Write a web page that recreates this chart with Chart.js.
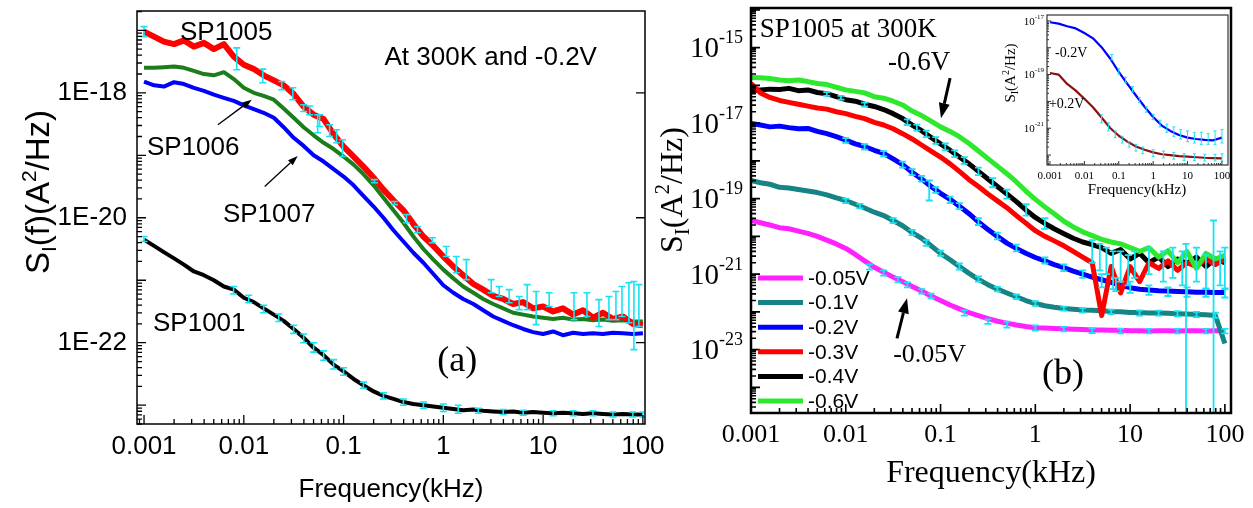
<!DOCTYPE html>
<html>
<head>
<meta charset="utf-8">
<script src="https://cdn.jsdelivr.net/npm/chart.js@4/dist/chart.umd.min.js"></script>
<style>
  body { margin: 0; background: #fff; }
  #wrap { position: relative; width: 1253px; height: 508px; }
  #wrap canvas { position: absolute; left: 0; top: 0; }
</style>
</head>
<body>
<div id="wrap">
  <canvas id="chartA" width="1253" height="508"></canvas>
  <canvas id="chartB" width="1253" height="508"></canvas>
  <canvas id="chartInset" width="1253" height="508"></canvas>
</div>
<script>
// frequency grid (kHz) shared by the main curves
const freq = [0.001, 0.00126, 0.00158, 0.002, 0.00251, 0.00316, 0.00398, 0.00501, 0.00631, 0.00794,
  0.01, 0.0126, 0.0158, 0.02, 0.0251, 0.0316, 0.0398, 0.0501, 0.0631, 0.0794,
  0.1, 0.126, 0.158, 0.2, 0.251, 0.316, 0.398, 0.501, 0.631, 0.794,
  1, 1.26, 1.58, 2, 2.51, 3.16, 3.98, 5.01, 6.31, 7.94,
  10, 12.6, 15.8, 20, 25.1, 31.6, 39.8, 50.1, 63.1, 79.4, 100];

// panel (a): log10 of S_I (A^2/Hz)
const sp1005 = [-17.02, -17.10, -17.18, -17.22, -17.16, -17.26, -17.20, -17.30, -17.22, -17.42,
  -17.55, -17.62, -17.72, -17.80, -17.88, -18.02, -18.22, -18.35, -18.42, -18.66,
  -18.86, -19.02, -19.18, -19.36, -19.55, -19.72, -19.88, -20.10, -20.30, -20.45,
  -20.62, -20.78, -20.92, -21.06, -21.15, -21.25, -21.30, -21.38, -21.35, -21.45,
  -21.42, -21.50, -21.45, -21.55, -21.48, -21.60, -21.52, -21.62, -21.58, -21.70, -21.72];
const sp1006 = [-17.60, -17.60, -17.59, -17.58, -17.60, -17.65, -17.70, -17.72, -17.67, -17.78,
  -17.92, -18.00, -18.05, -18.11, -18.25, -18.40, -18.55, -18.68, -18.80, -18.90,
  -19.02, -19.15, -19.30, -19.48, -19.68, -19.88, -20.08, -20.30, -20.50, -20.67,
  -20.83, -20.97, -21.10, -21.20, -21.30, -21.38, -21.45, -21.52, -21.55, -21.58,
  -21.60, -21.62, -21.60, -21.63, -21.62, -21.64, -21.63, -21.65, -21.64, -21.66, -21.66];
const sp1007 = [-17.82, -17.88, -17.90, -17.83, -17.86, -17.92, -17.97, -18.03, -18.08, -18.13,
  -18.20, -18.26, -18.32, -18.40, -18.55, -18.72, -18.85, -19.00, -19.10, -19.22,
  -19.34, -19.48, -19.65, -19.82, -20.00, -20.20, -20.38, -20.56, -20.72, -20.90,
  -21.08, -21.20, -21.30, -21.38, -21.48, -21.58, -21.65, -21.72, -21.78, -21.83,
  -21.86, -21.82, -21.88, -21.84, -21.86, -21.85, -21.86, -21.84, -21.85, -21.86, -21.85];
const sp1001 = [-20.35, -20.45, -20.55, -20.65, -20.75, -20.86, -20.92, -21.00, -21.10, -21.15,
  -21.28, -21.35, -21.45, -21.55, -21.65, -21.78, -21.92, -22.08, -22.20, -22.35,
  -22.46, -22.58, -22.68, -22.78, -22.85, -22.90, -22.95, -22.98, -23.00, -23.02,
  -23.04, -23.06, -23.08, -23.07, -23.09, -23.10, -23.11, -23.10, -23.12, -23.11,
  -23.12, -23.13, -23.12, -23.13, -23.14, -23.13, -23.14, -23.15, -23.14, -23.15, -23.15];

// error bars: [kHz, log10 low, log10 high]
const errSp1005 = [[0.001, -17.1, -16.94], [0.0085, -17.63, -17.28], [0.0155, -17.84, -17.62], [0.024, -17.95, -17.82],
  [0.031, -18.11, -17.92], [0.0398, -18.3, -18.19], [0.0457, -18.35, -18.21], [0.055, -18.64, -18.35],
  [0.0575, -18.54, -18.35], [0.0724, -18.7, -18.51], [0.0851, -18.8, -18.59], [0.0977, -19.02, -18.75],
  [0.204, -19.44, -19.39], [0.324, -19.79, -19.74], [0.427, -20.08, -19.95], [0.55, -20.24, -20.14],
  [0.776, -20.4, -20.32], [1.07, -20.62, -20.46], [1.35, -20.88, -20.62], [1.7, -20.99, -20.67],
  [3.02, -21.2, -20.99], [3.63, -21.26, -21.1], [4.57, -21.36, -21.15], [5.75, -21.47, -21.26],
  [6.92, -21.47, -21.07], [8.51, -21.71, -21.18], [11.5, -21.42, -21.2], [20.4, -21.63, -21.2],
  [27.5, -21.58, -21.2], [36.3, -21.74, -21.31], [45.7, -21.63, -21.26], [53.7, -21.63, -21.18],
  [61.7, -21.58, -21.1], [72.4, -21.68, -21.04], [81.3, -22.11, -21.02], [91.2, -21.74, -21.07]];
const errSp1001 = [[0.001, -20.38, -20.3], [0.0079, -21.22, -21.1], [0.0112, -21.36, -21.24], [0.0158, -21.52, -21.4],
  [0.0224, -21.66, -21.54], [0.0316, -21.85, -21.72], [0.0398, -22.0, -21.86], [0.0501, -22.15, -22.0],
  [0.0631, -22.28, -22.13], [0.0794, -22.42, -22.27], [0.1, -22.52, -22.4], [0.158, -22.73, -22.63],
  [0.251, -22.9, -22.8], [0.398, -23.0, -22.9], [0.631, -23.05, -22.95], [1, -23.1, -22.98],
  [1.41, -23.13, -23.0], [2.24, -23.13, -23.05], [3.98, -23.15, -23.07], [6.31, -23.16, -23.08],
  [12.6, -23.17, -23.09], [20, -23.17, -23.09], [31.6, -23.17, -23.09], [50.1, -23.19, -23.11],
  [79.4, -23.19, -23.11], [100, -23.19, -23.11]];

// panel (b): SP1005 at 300K, log10 of S_I for each bias
const v005 = [-19.58, -19.64, -19.70, -19.77, -19.80, -19.86, -19.92, -20.00, -20.10, -20.20,
  -20.32, -20.48, -20.65, -20.82, -20.95, -21.08, -21.20, -21.33, -21.45, -21.58,
  -21.70, -21.82, -21.92, -22.02, -22.10, -22.18, -22.25, -22.30, -22.35, -22.39,
  -22.42, -22.43, -22.44, -22.45, -22.46, -22.47, -22.48, -22.48, -22.49, -22.49,
  -22.50, -22.50, -22.51, -22.50, -22.50, -22.51, -22.50, -22.50, -22.51, -22.50, -22.50];
const v01 = [-18.52, -18.58, -18.62, -18.70, -18.72, -18.76, -18.80, -18.84, -18.90, -18.98,
  -19.05, -19.15, -19.25, -19.36, -19.45, -19.58, -19.72, -19.90, -20.05, -20.25,
  -20.45, -20.62, -20.80, -20.98, -21.14, -21.28, -21.40, -21.50, -21.60, -21.70,
  -21.78, -21.84, -21.88, -21.91, -21.93, -21.95, -21.96, -21.97, -21.99, -22.00,
  -22.02, -22.02, -22.03, -22.03, -22.04, -22.05, -22.06, -22.07, -22.08, -22.10, -22.84];
const v02 = [-17.01, -17.05, -17.10, -17.08, -17.12, -17.15, -17.14, -17.22, -17.28, -17.36,
  -17.45, -17.55, -17.62, -17.72, -17.80, -17.95, -18.10, -18.30, -18.48, -18.68,
  -18.86, -19.02, -19.20, -19.40, -19.62, -19.82, -20.00, -20.18, -20.32, -20.45,
  -20.56, -20.65, -20.75, -20.83, -20.92, -21.00, -21.08, -21.15, -21.22, -21.30,
  -21.36, -21.40, -21.42, -21.44, -21.45, -21.46, -21.47, -21.48, -21.48, -21.49, -21.49];
const v03 = [-15.95, -16.20, -16.32, -16.40, -16.45, -16.50, -16.55, -16.60, -16.63, -16.70,
  -16.75, -16.82, -16.88, -16.98, -17.05, -17.15, -17.28, -17.42, -17.58, -17.74,
  -17.90, -18.08, -18.28, -18.50, -18.68, -18.88, -19.06, -19.24, -19.45, -19.65,
  -19.85, -20.00, -20.12, -20.25, -20.40, -20.55, -20.70, -22.10, -20.80, -21.50,
  -20.80, -21.20, -20.70, -20.85, -20.65, -20.90, -20.70, -20.80, -20.60, -20.75, -20.60];
const v04 = [-16.14, -16.12, -16.10, -16.11, -16.08, -16.14, -16.12, -16.19, -16.22, -16.30,
  -16.38, -16.42, -16.50, -16.56, -16.64, -16.75, -16.88, -17.05, -17.20, -17.38,
  -17.55, -17.72, -17.90, -18.08, -18.28, -18.48, -18.68, -18.88, -19.08, -19.30,
  -19.50, -19.66, -19.80, -19.93, -20.05, -20.15, -20.22, -20.30, -20.45, -20.35,
  -20.60, -20.45, -20.70, -20.55, -20.80, -20.60, -20.72, -20.55, -20.80, -20.60, -20.70];
const v06 = [-15.79, -15.80, -15.82, -15.86, -15.88, -15.86, -15.90, -15.95, -15.98, -16.05,
  -16.12, -16.16, -16.20, -16.30, -16.34, -16.42, -16.52, -16.68, -16.80, -16.95,
  -17.10, -17.22, -17.36, -17.54, -17.74, -17.94, -18.14, -18.34, -18.56, -18.80,
  -19.02, -19.22, -19.40, -19.60, -19.75, -19.88, -19.98, -20.08, -20.15, -20.20,
  -20.30, -20.40, -20.30, -20.55, -20.38, -20.70, -20.40, -20.85, -20.45, -20.60, -20.50];

const errV04 = [[0.0063, -16.28, -16.18], [0.0089, -16.38, -16.28], [0.0158, -16.56, -16.46], [0.0447, -17.05, -16.9],
  [0.0562, -17.2, -17.04], [0.0708, -17.37, -17.2], [0.0891, -17.55, -17.37], [0.112, -17.72, -17.54],
  [0.141, -17.9, -17.72], [0.178, -18.08, -17.9], [0.251, -18.38, -18.18], [0.355, -18.7, -18.46],
  [0.5, -19.0, -18.76], [0.8, -19.45, -19.15], [1.26, -19.8, -19.52]];
const errHigh = [[3.98, -20.7, -20.1], [4.79, -20.9, -20.2], [5.62, -21.0, -20.3], [6.61, -21.4, -20.4],
  [7.94, -21.2, -20.4], [9.55, -21.3, -20.5], [11.2, -21.1, -20.4], [15.8, -21.0, -20.3],
  [22.4, -21.2, -20.4], [28.2, -21.1, -20.3], [35.5, -21.3, -20.4], [50.1, -21.2, -20.3],
  [63.1, -21.4, -20.5], [89.1, -21.3, -20.4], [100, -21.4, -20.3]];
const errV02 = [[0.01, -17.52, -17.4], [0.0158, -17.7, -17.56], [0.0251, -17.88, -17.74], [0.0398, -18.18, -18.02],
  [0.0501, -18.38, -18.22], [0.0631, -18.55, -18.4], [0.0759, -19.05, -18.52], [0.0891, -18.85, -18.7],
  [0.126, -19.12, -18.95], [0.158, -19.28, -19.12], [0.251, -19.7, -19.52], [0.398, -20.08, -19.9],
  [0.631, -20.4, -20.22], [1.26, -20.72, -20.56], [2, -20.92, -20.74], [3.16, -21.1, -20.9],
  [5.01, -21.35, -21.0], [7.08, -21.45, -21.1], [10, -21.5, -21.2], [15.8, -21.55, -21.3],
  [25.1, -21.58, -21.35], [39.8, -21.6, -21.35], [63.1, -21.6, -21.38], [100, -21.62, -21.38]];
const errV01 = [[0.01, -19.12, -19.0], [0.0141, -19.26, -19.14], [0.0316, -19.65, -19.52], [0.0501, -19.97, -19.83],
  [0.0708, -20.25, -20.1], [0.1, -20.52, -20.38], [0.158, -20.88, -20.72], [0.251, -21.2, -21.06],
  [0.398, -21.46, -21.34], [0.631, -21.66, -21.54], [1, -21.84, -21.72], [2, -21.97, -21.86],
  [3.16, -22.02, -21.9], [6.31, -22.06, -21.94], [12.6, -22.1, -21.96], [20, -22.1, -21.97],
  [31.6, -22.12, -21.98], [50.1, -22.14, -22.0], [79.4, -22.16, -22.02]];
const errV005 = [[0.0178, -20.88, -20.74], [0.0251, -21.04, -20.9], [0.0355, -21.22, -21.08], [0.0447, -21.35, -21.22],
  [0.0631, -21.52, -21.4], [0.0794, -21.64, -21.52], [0.178, -22.1, -21.96], [0.316, -22.32, -22.2],
  [0.501, -22.42, -22.26], [1, -22.5, -22.36], [2, -22.52, -22.4], [3.98, -22.56, -22.44],
  [7.94, -22.57, -22.45], [15.8, -22.57, -22.45], [31.6, -22.57, -22.45], [63.1, -22.57, -22.45], [100, -22.57, -22.45]];
const errSpikes = [[38.9, -26, -20.2], [75.9, -26, -19.58]];

// inset: -0.2V and +0.2V
const insetFreq = [0.001, 0.00178, 0.00316, 0.00562, 0.01, 0.0178, 0.0316, 0.0562, 0.1, 0.178, 0.316,
  0.562, 1, 1.78, 3.16, 5.62, 10, 17.8, 31.6, 56.2, 100];
const insetNeg = [-17.05, -17.10, -17.20, -17.28, -17.45, -17.65, -17.98, -18.40, -18.90, -19.35, -19.78,
  -20.20, -20.58, -20.90, -21.10, -21.25, -21.35, -21.40, -21.43, -21.45, -21.35];
const insetPos = [-18.94, -19.00, -19.35, -19.60, -19.90, -20.22, -20.60, -20.99, -21.28, -21.50, -21.68,
  -21.80, -21.90, -21.97, -22.00, -22.04, -22.06, -22.08, -22.10, -22.11, -22.12];
const errInsetNeg = [[0.063, -18.45, -18.25], [0.1, -18.98, -18.78], [0.158, -19.3, -19.1], [0.251, -19.65, -19.45],
  [0.398, -20.05, -19.85], [0.631, -20.4, -20.2], [1, -20.68, -20.48], [1.58, -20.95, -20.7],
  [2.51, -21.15, -20.85], [3.98, -21.3, -20.95], [6.31, -21.4, -21.05], [10, -21.5, -21.1],
  [15.8, -21.55, -21.15], [25.1, -21.6, -21.15], [39.8, -21.6, -21.2], [63.1, -21.6, -21.1], [100, -21.55, -21.05]];
const errInsetPos = [[0.0316, -20.8, -20.5], [0.05, -21.1, -20.8], [0.079, -21.35, -21.1], [0.126, -21.55, -21.3],
  [0.2, -21.7, -21.5], [0.316, -21.85, -21.6], [0.5, -21.95, -21.7], [1, -22.05, -21.8],
  [2, -22.1, -21.85], [3.98, -22.15, -21.9], [7.94, -22.2, -21.95], [15.8, -22.2, -21.95],
  [31.6, -22.22, -21.97], [63.1, -22.22, -21.97], [100, -22.22, -21.95]];

// tick labels
const freqTicks = [0.001, 0.01, 0.1, 1, 10, 100];
const freqTickLabels = ['0.001', '0.01', '0.1', '1', '10', '100'];
const yTicksA = [1e-18, 1e-20, 1e-22];
const yTickLabelsA = ['1E-18', '1E-20', '1E-22'];
const yExpB = [-15, -17, -19, -21, -23];
const yExpInset = [-17, -19, -21];

const SANS = '"Liberation Sans", Arial, sans-serif';
const SERIF = '"Liberation Serif", "Times New Roman", serif';
const CYAN = '#17e3f2';

function pts(fs, es) { return fs.map((f, i) => ({ x: f, y: Math.pow(10, es[i]) })); }

function logTicks(min, max) {
  const out = [];
  for (let e = Math.floor(Math.log10(min)); e <= Math.ceil(Math.log10(max)); e++) {
    for (let m = 1; m < 10; m++) {
      const v = m * Math.pow(10, e);
      if (v >= min * 0.999 && v <= max * 1.001) out.push({ value: v });
    }
  }
  return out;
}
function isDecade(v) { const l = Math.log10(v); return Math.abs(l - Math.round(l)) < 1e-6; }
function labelFor(v, vals, labels) {
  const i = vals.findIndex(t => Math.abs(Math.log10(t) - Math.log10(v)) < 1e-6);
  return i < 0 ? '' : labels[i];
}

function axis(o) {
  return {
    type: 'logarithmic', min: o.min, max: o.max, bounds: 'data',
    afterBuildTicks: s => { s.ticks = logTicks(o.min, o.max); },
    afterFit: s => {
      if (o.horizontal) { s.height = o.size; s.paddingLeft = 0; s.paddingRight = 0; }
      else { s.width = o.size; s.paddingTop = 0; s.paddingBottom = 0; }
    },
    grid: { display: true, drawOnChartArea: false, drawTicks: false },
    border: { display: false },
    ticks: {
      display: !!o.labels, autoSkip: false, maxRotation: 0, minRotation: 0,
      padding: o.pad || 0, color: '#000', font: o.font,
      callback: v => o.labels ? labelFor(v, o.vals, o.labels) : ''
    }
  };
}

function drawRich(ctx, parts, cx, cy, rot, family) {
  ctx.save();
  ctx.translate(cx, cy);
  if (rot) ctx.rotate(-Math.PI / 2);
  ctx.textAlign = 'left'; ctx.textBaseline = 'alphabetic'; ctx.fillStyle = '#000';
  let w = 0;
  parts.forEach(p => { ctx.font = p.s + 'px ' + family; w += ctx.measureText(p.t).width; });
  let x = -w / 2;
  const base = parts[0].s * 0.36;
  parts.forEach(p => {
    ctx.font = p.s + 'px ' + family;
    ctx.fillText(p.t, x, base + (p.dy || 0));
    x += ctx.measureText(p.t).width;
  });
  ctx.restore();
}

function arrow(ctx, x1, y1, x2, y2, lw, hl, hw) {
  const ang = Math.atan2(y2 - y1, x2 - x1);
  const bx = x2 - hl * Math.cos(ang), by = y2 - hl * Math.sin(ang);
  ctx.lineWidth = lw; ctx.strokeStyle = '#000'; ctx.fillStyle = '#000';
  ctx.beginPath(); ctx.moveTo(x1, y1); ctx.lineTo(bx, by); ctx.stroke();
  ctx.beginPath();
  ctx.moveTo(x2, y2);
  ctx.lineTo(bx + hw / 2 * Math.sin(ang), by - hw / 2 * Math.cos(ang));
  ctx.lineTo(bx - hw / 2 * Math.sin(ang), by + hw / 2 * Math.cos(ang));
  ctx.closePath(); ctx.fill();
}

function makeDecor(cfg) {
  return {
    id: 'decor',
    beforeDatasetsDraw(chart) {
      if (!cfg.whiteBack) return;
      const { ctx, chartArea: a } = chart;
      ctx.save(); ctx.fillStyle = '#fff';
      ctx.fillRect(a.left, a.top, a.right - a.left, a.bottom - a.top);
      ctx.restore();
    },
    afterDatasetsDraw(chart) {
      const { ctx, chartArea: a } = chart;
      const xs = chart.scales.x, ys = chart.scales.y;
      const P = (f, e) => [xs.getPixelForValue(f), ys.getPixelForValue(Math.pow(10, e))];

      // error bars
      ctx.save();
      ctx.beginPath(); ctx.rect(a.left, a.top, a.right - a.left, a.bottom - a.top); ctx.clip();
      ctx.strokeStyle = CYAN; ctx.lineWidth = cfg.errWidth;
      cfg.errorBars.forEach(list => list.forEach(([f, lo, hi]) => {
        const [x, y1] = P(f, lo); const y2 = P(f, hi)[1];
        ctx.beginPath();
        ctx.moveTo(x, y1); ctx.lineTo(x, y2);
        ctx.moveTo(x - cfg.cap, y1); ctx.lineTo(x + cfg.cap, y1);
        ctx.moveTo(x - cfg.cap, y2); ctx.lineTo(x + cfg.cap, y2);
        ctx.stroke();
      }));
      ctx.restore();

      ctx.save();
      // frame and inward ticks
      ctx.strokeStyle = cfg.frameColor; ctx.lineWidth = cfg.frameWidth;
      ctx.strokeRect(a.left, a.top, a.right - a.left, a.bottom - a.top);
      ctx.lineWidth = cfg.tickWidth;
      ctx.beginPath();
      xs.ticks.forEach(t => {
        const x = xs.getPixelForValue(t.value);
        const L = isDecade(t.value) ? cfg.major : cfg.minor;
        ctx.moveTo(x, a.bottom); ctx.lineTo(x, a.bottom - L);
      });
      ys.ticks.forEach(t => {
        const y = ys.getPixelForValue(t.value);
        const L = isDecade(t.value) ? cfg.major : cfg.minor;
        ctx.moveTo(a.left, y); ctx.lineTo(a.left + L, y);
      });
      (cfg.rightTicks || []).forEach(v => {
        const y = ys.getPixelForValue(v);
        ctx.moveTo(a.right, y); ctx.lineTo(a.right - cfg.major, y);
      });
      ctx.stroke();

      // power-of-ten y labels
      if (cfg.pow) {
        const p = cfg.pow;
        ctx.fillStyle = '#000'; ctx.textBaseline = 'middle';
        p.exps.forEach(e => {
          const y = ys.getPixelForValue(Math.pow(10, e));
          const xr = a.left - p.gap;
          ctx.font = p.sup + 'px ' + p.family;
          const ws = ctx.measureText(String(e)).width;
          ctx.textAlign = 'left';
          ctx.fillText(String(e), xr - ws, y - p.supDy);
          ctx.font = p.size + 'px ' + p.family;
          ctx.textAlign = 'right';
          ctx.fillText('10', xr - ws, y + p.dy);
        });
      }

      // annotations
      ctx.fillStyle = '#000'; ctx.textBaseline = 'alphabetic'; ctx.textAlign = 'left';
      (cfg.texts || []).forEach(t => {
        const [x, y] = P(t.f, t.e);
        ctx.font = t.font;
        ctx.fillText(t.t, x, y);
      });
      (cfg.arrows || []).forEach(r => {
        const [x1, y1] = P(r.from[0], r.from[1]);
        const [x2, y2] = P(r.to[0], r.to[1]);
        arrow(ctx, x1, y1, x2, y2, r.lw, r.hl, r.hw);
      });

      // legend built from the datasets
      if (cfg.legend) {
        const g = cfg.legend;
        chart.data.datasets.forEach((ds, i) => {
          const y = a.bottom - g.fromBottom + i * g.step;
          ctx.strokeStyle = ds.borderColor; ctx.lineWidth = g.lw; ctx.lineCap = 'butt';
          ctx.beginPath(); ctx.moveTo(a.left + g.x0, y); ctx.lineTo(a.left + g.x0 + g.len, y); ctx.stroke();
          ctx.fillStyle = '#000'; ctx.font = g.font; ctx.textBaseline = 'middle'; ctx.textAlign = 'left';
          ctx.fillText(ds.label, a.left + g.x0 + g.len + 5, y + 1);
        });
      }

      (cfg.titles || []).forEach(t => drawRich(ctx, t.parts, t.x, t.y, t.rot, t.family));
      ctx.restore();
    }
  };
}

const baseOpts = (padding, x, y) => ({
  responsive: false, animation: false, devicePixelRatio: 1,
  layout: { padding },
  events: [],
  plugins: { legend: { display: false }, tooltip: { enabled: false } },
  elements: { point: { radius: 0 }, line: { tension: 0, borderJoinStyle: 'round' } },
  scales: { x, y }
});

// ---------- panel (a) ----------
new Chart(document.getElementById('chartA'), {
  type: 'line',
  data: {
    datasets: [
      { label: 'SP1005', data: pts(freq, sp1005), borderColor: '#ff0000', borderWidth: 6, order: 0 },
      { label: 'SP1007', data: pts(freq, sp1007), borderColor: '#0000ff', borderWidth: 4, order: 1 },
      { label: 'SP1006', data: pts(freq, sp1006), borderColor: '#1b7d1b', borderWidth: 4, order: 2 },
      { label: 'SP1001', data: pts(freq, sp1001), borderColor: '#000000', borderWidth: 4, order: 3 }
    ]
  },
  options: baseOpts({ left: 0, top: 11, right: 608, bottom: 0 },
    axis({ horizontal: true, min: 8.5e-4, max: 105, size: 84, pad: 7, vals: freqTicks, labels: freqTickLabels,
      font: { family: SANS, size: 26 } }),
    axis({ horizontal: false, min: 5.0e-24, max: 2.04e-17, size: 137, pad: 10, vals: yTicksA, labels: yTickLabelsA,
      font: { family: SANS, size: 26 } })),
  plugins: [makeDecor({
    errorBars: [errSp1005, errSp1001], errWidth: 1.6, cap: 3.5,
    frameColor: '#000', frameWidth: 1.5, tickWidth: 1.3, major: 9, minor: 5,
    rightTicks: yTicksA,
    texts: [
      { t: 'SP1005', f: 0.00229, e: -17.15, font: '26px ' + SANS },
      { t: 'SP1006', f: 0.00107, e: -18.99, font: '26px ' + SANS },
      { t: 'SP1007', f: 0.00617, e: -20.06, font: '26px ' + SANS },
      { t: 'SP1001', f: 0.00123, e: -21.82, font: '26px ' + SANS },
      { t: 'At 300K and -0.2V', f: 0.257, e: -17.55, font: '26px ' + SANS },
      { t: '(a)', f: 0.871, e: -22.46, font: '36px ' + SERIF }
    ],
    arrows: [
      { from: [0.0055, -18.51], to: [0.012, -18.11], lw: 1.3, hl: 10, hw: 7 },
      { from: [0.0162, -19.5], to: [0.0347, -19.01], lw: 1.3, hl: 10, hw: 7 }
    ],
    titles: [
      { parts: [{ t: 'S', s: 33 }, { t: 'I', s: 21, dy: 7 }, { t: '(f)(A', s: 33 }, { t: '2', s: 21, dy: -13 }, { t: '/Hz)', s: 33 }],
        x: 37, y: 192, rot: true, family: SANS },
      { parts: [{ t: 'Frequency(kHz)', s: 26 }], x: 391, y: 488, rot: false, family: SANS }
    ]
  })]
});

// ---------- panel (b) ----------
new Chart(document.getElementById('chartB'), {
  type: 'line',
  data: {
    datasets: [
      { label: '-0.05V', data: pts(freq, v005), borderColor: '#ff22ff', borderWidth: 5, order: 5 },
      { label: '-0.1V', data: pts(freq, v01), borderColor: '#168484', borderWidth: 5, order: 4 },
      { label: '-0.2V', data: pts(freq, v02), borderColor: '#0000ff', borderWidth: 5, order: 3 },
      { label: '-0.3V', data: pts(freq, v03), borderColor: '#ff0000', borderWidth: 5, order: 1 },
      { label: '-0.4V', data: pts(freq, v04), borderColor: '#000000', borderWidth: 5, order: 2 },
      { label: '-0.6V', data: pts(freq, v06), borderColor: '#2ee82e', borderWidth: 5, order: 0 }
    ]
  },
  options: baseOpts({ left: 0, top: 8, right: 22, bottom: 0 },
    axis({ horizontal: true, min: 0.001, max: 116, size: 95, pad: 7, vals: freqTicks, labels: freqTickLabels,
      font: { family: SERIF, size: 26 } }),
    axis({ horizontal: false, min: 2.09e-25, max: 1.12e-14, size: 751, labels: null })),
  plugins: [makeDecor({
    errorBars: [errV04, errHigh, errV02, errV01, errV005, errSpikes], errWidth: 1.8, cap: 3.5,
    frameColor: '#000', frameWidth: 2.5, tickWidth: 1.6, major: 9, minor: 5,
    pow: { exps: yExpB, family: SERIF, size: 29, sup: 18, gap: 8, dy: 2, supDy: 9 },
    texts: [
      { t: 'SP1005 at 300K', f: 0.00124, e: -14.72, font: '27px ' + SERIF },
      { t: '-0.6V', f: 0.0279, e: -15.6, font: '27px ' + SERIF },
      { t: '-0.05V', f: 0.0316, e: -23.33, font: '26px ' + SERIF },
      { t: '(b)', f: 1.175, e: -23.91, font: '36px ' + SERIF }
    ],
    arrows: [
      { from: [0.126, -15.81], to: [0.101, -16.87], lw: 3, hl: 15, hw: 11 },
      { from: [0.0347, -22.7], to: [0.0443, -21.64], lw: 3, hl: 15, hw: 11 }
    ],
    legend: { x0: 7, len: 45, fromBottom: 135, step: 24.6, lw: 5, font: '21px ' + SANS },
    titles: [
      { parts: [{ t: 'S', s: 32 }, { t: 'I', s: 21, dy: 7 }, { t: '(A', s: 32 }, { t: '2', s: 21, dy: -13 }, { t: '/Hz)', s: 32 }],
        x: 670, y: 190, rot: true, family: SERIF },
      { parts: [{ t: 'Frequency(kHz)', s: 32 }], x: 991, y: 470, rot: false, family: SERIF }
    ]
  })]
});

// ---------- inset ----------
new Chart(document.getElementById('chartInset'), {
  type: 'line',
  data: {
    datasets: [
      { label: '-0.2V', data: pts(insetFreq, insetNeg), borderColor: '#0000ff', borderWidth: 2.2, order: 0 },
      { label: '+0.2V', data: pts(insetFreq, insetPos), borderColor: '#8b1010', borderWidth: 2.2, order: 1 }
    ]
  },
  options: baseOpts({ left: 0, top: 15, right: 25, bottom: 0 },
    axis({ horizontal: true, min: 8.2e-4, max: 150, size: 343, pad: 5, vals: freqTicks, labels: freqTickLabels,
      font: { family: SERIF, size: 11 } }),
    axis({ horizontal: false, min: 4.27e-23, max: 1.66e-17, size: 1047, labels: null })),
  plugins: [makeDecor({
    whiteBack: true,
    errorBars: [errInsetNeg, errInsetPos], errWidth: 1, cap: 1.5,
    frameColor: '#333', frameWidth: 1.2, tickWidth: 1, major: 4, minor: 2,
    pow: { exps: yExpInset, family: SERIF, size: 11, sup: 7, gap: 3, dy: 1, supDy: 4 },
    texts: [
      { t: '-0.2V', f: 0.0014, e: -18.34, font: '14px ' + SERIF },
      { t: '+0.2V', f: 0.00093, e: -20.25, font: '14px ' + SERIF }
    ],
    titles: [
      { parts: [{ t: 'S', s: 15 }, { t: 'I', s: 10, dy: 3 }, { t: '(A', s: 15 }, { t: '2', s: 10, dy: -6 }, { t: '/Hz)', s: 15 }],
        x: 1010, y: 73, rot: true, family: SERIF },
      { parts: [{ t: 'Frequency(kHz)', s: 15 }], x: 1137, y: 189, rot: false, family: SERIF }
    ]
  })]
});
</script>
</body>
</html>
